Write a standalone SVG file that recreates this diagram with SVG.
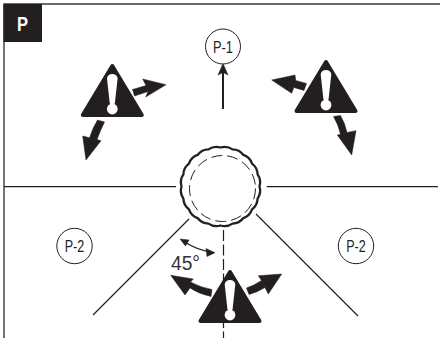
<svg xmlns="http://www.w3.org/2000/svg" width="440" height="338" viewBox="0 0 440 338">
<style>
.ln{fill:none;stroke:#231f20;stroke-width:1.2}
.bd{fill:none;stroke:#3a3a3a;stroke-width:1.4}
.hv{fill:#231f20;stroke:#231f20;stroke-width:.5;stroke-linejoin:round}
.lb{fill:#fff;stroke:#231f20;stroke-width:1}
.t{font-family:"Liberation Sans",Arial,sans-serif;font-size:16px;fill:#231f20;text-anchor:middle}
</style>
<defs>
<g id="warn">
<polygon points="0,2 29.5,51 -29.5,51" fill="#231f20" stroke="#231f20" stroke-width="4" stroke-linejoin="round"/>
<path d="M-5.3,14.5 A5.3,4.5 0 0 1 5.3,14.5 L2.6,39 A2.6,2 0 0 1 -2.6,39 Z" fill="#fff"/>
<circle cx="0" cy="45" r="5.4" fill="#fff"/>
</g>
</defs>
<rect width="440" height="338" fill="#fff"/>
<g id="frame">
<path class="bd" d="M4,338 V4 H440"/>
<rect x="3.5" y="4" width="38.5" height="38" fill="#231f20"/>
<text x="22.5" y="31" font-family="'Liberation Sans',Arial,sans-serif" font-weight="700" font-size="21" fill="#fff" text-anchor="middle" textLength="11" lengthAdjust="spacingAndGlyphs">P</text>
</g>
<g id="connectors">
<path class="ln" d="M4,186.7 H176 M266.7,186.7 H438 M189,219 L93,315 M256,214 L358,316"/>
<path class="ln" d="M223.5,230 V338" stroke-dasharray="11 3.5"/>
<path class="ln" style="stroke-width:2" d="M223,109 V70"/>
<polygon class="hv" points="223,63.5 228,75 223,72.5 218,75"/>
<path class="hv" d="M132.5,89.5 L146,85.5 L142.7,79 L166,84.7 L145.7,97 L148,91.5 L134.5,96 Z"/>
<path class="hv" d="M97.5,120 L104.5,122 Q100.5,130 97,139.5 L101,140.7 L86,160 L82.7,136 L89.5,137.8 Q92.5,128 97.5,120 Z"/>
<path class="hv" d="M306.5,83.5 L304,90.5 Q297,88.3 293.8,87.5 L291.7,93.3 L271.7,80 L295,75 L295.8,80.5 Q301,81.8 306.5,83.5 Z"/>
<path class="hv" d="M333.5,116.5 L340.5,115.5 Q345,123 347,132.5 L356,130.7 L351.7,155 L337.3,135 L340.5,134.2 Q338.5,125 333.5,116.5 Z"/>
<path class="hv" d="M212,289.5 L211,296.5 Q199,294 190,288 L185,295 L170.7,275.3 L193.3,279 L190.5,282 Q201,287.5 212,289.5 Z"/>
<path class="hv" d="M246.5,288 L249,294.5 Q258,292 265,287.5 L268.3,294 L281.7,274 L258.3,275.7 L261.5,280.5 Q254,285.5 246.5,288 Z"/>
<path class="ln" style="stroke-width:1.4" d="M184,241.5 Q197,250 211,252"/>
<polygon class="hv" points="180,239 189,240 185.5,246"/>
<polygon class="hv" points="215,252.7 206,248.5 207,256.5"/>
</g>
<g id="hub">
<path d="M259.5,186.5 A14,14 0 0 1 257.6,198.55 A14,14 0 0 1 252.05,209.42 A14,14 0 0 1 243.42,218.05 A14,14 0 0 1 232.55,223.6 A14,14 0 0 1 220.5,225.5 A14,14 0 0 1 208.45,223.6 A14,14 0 0 1 197.58,218.05 A14,14 0 0 1 188.95,209.42 A14,14 0 0 1 183.4,198.55 A14,14 0 0 1 181.5,186.5 A14,14 0 0 1 183.4,174.45 A14,14 0 0 1 188.95,163.58 A14,14 0 0 1 197.58,154.95 A14,14 0 0 1 208.45,149.4 A14,14 0 0 1 220.5,147.5 A14,14 0 0 1 232.55,149.4 A14,14 0 0 1 243.42,154.95 A14,14 0 0 1 252.05,163.58 A14,14 0 0 1 257.6,174.45 A14,14 0 0 1 259.5,186.5 Z" fill="#fff" stroke="#231f20" stroke-width="2.3"/>
<circle cx="222.5" cy="188.5" r="33" fill="none" stroke="#231f20" stroke-width="1" stroke-dasharray="11 5"/>
</g>
<g id="p1"><circle class="lb" cx="223" cy="46.5" r="17.5"/><text class="t" x="223" y="52.5" textLength="20" lengthAdjust="spacingAndGlyphs">P-1</text></g>
<g id="p2-left"><circle class="lb" cx="74.5" cy="246" r="17.7"/><text class="t" x="74.5" y="251.7" textLength="19.5" lengthAdjust="spacingAndGlyphs">P-2</text></g>
<g id="p2-right"><circle class="lb" cx="356" cy="246" r="17.7"/><text class="t" x="356" y="251.7" textLength="19.5" lengthAdjust="spacingAndGlyphs">P-2</text></g>
<g id="warn-left"><use href="#warn" x="112.3" y="64"/></g>
<g id="warn-right"><use href="#warn" x="326" y="60"/></g>
<g id="warn-bottom"><use href="#warn" x="230" y="270"/></g>
<g id="angle"><text x="171" y="269.5" font-family="'Liberation Sans',Arial,sans-serif" font-size="20" fill="#333" textLength="29" lengthAdjust="spacingAndGlyphs">45°</text></g>
</svg>
